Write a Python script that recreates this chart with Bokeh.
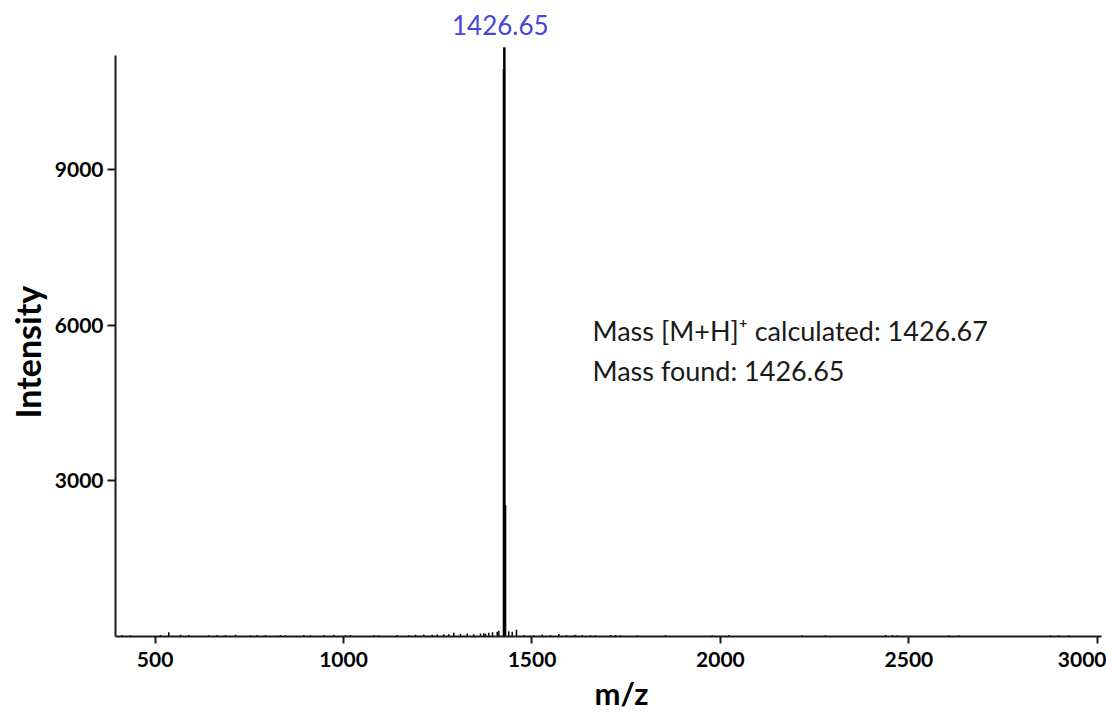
from bokeh.plotting import figure
from bokeh.models import Range1d, FixedTicker, Title
from bokeh.core.properties import value
from bokeh.embed import file_html
from bokeh.resources import INLINE

# ---- data ----
peak_mz = [1425.6, 1426.65, 1428.6]
peak_int = [10940, 11360, 2530]

noise_mz = [412.8, 434.8, 514.4, 536.4, 567.5, 589.5, 642.5, 664.8, 686.8, 713.4,
            753.2, 770.9, 793.0, 832.8, 846.0, 894.6, 912.4, 947.7, 974.2, 1005.2,
            1018.5, 1080.3, 1093.6, 1142.4, 1173.2, 1191.0, 1213.0, 1235.3, 1248.5, 1266.0,
            1279.3, 1292.6, 1310.3, 1328.1, 1345.6, 1363.4, 1372.2, 1376.7, 1385.4, 1395.3,
            1407.7, 1412.0, 1438.5, 1447.5, 1458.9, 1478.3, 1504.8, 1527.1, 1549.1, 1571.2,
            1591.6, 1611.0, 1615.5, 1633.2, 1655.0, 1668.5, 1708.3, 1721.6, 1734.9, 1779.2,
            1854.2, 1978.2, 2022.0, 2217.0, 2278.8, 2438.0, 2456.5, 2469.0, 2606.0, 2632.5,
            2875.8, 2897.8, 2924.3]
noise_int = [30, 25, 30, 80, 35, 30, 25, 30, 30, 35,
             25, 30, 30, 30, 25, 30, 25, 30, 35, 25,
             30, 30, 25, 30, 25, 35, 40, 35, 40, 45,
             45, 70, 50, 55, 45, 60, 65, 55, 70, 80,
             90, 110, 100, 90, 130, 30, 25, 40, 30, 50,
             30, 25, 35, 30, 25, 25, 30, 30, 25, 25,
             30, 25, 30, 25, 25, 30, 30, 25, 25, 25,
             25, 25, 25]

x_ticks = [500, 1000, 1500, 2000, 2500, 3000]
y_ticks = [3000, 6000, 9000]

peak_label = "1426.65"
note_lines = ["Mass [M+H]\u207a calculated: 1426.67", "Mass found: 1426.65"]
x_title = "m/z"
y_title = "Intensity"

FONT = "Lato"

p = figure(width=1106, height=721, output_backend="svg", toolbar_location=None,
           x_range=Range1d(395, 3011), y_range=Range1d(0, 12071),
           min_border_left=115, min_border_right=5, min_border_top=10, min_border_bottom=85)
p.outline_line_color = None
p.grid.grid_line_color = None
p.background_fill_color = "white"
p.border_fill_color = "white"

p.segment(x0=noise_mz, y0=[0] * len(noise_mz), x1=noise_mz, y1=noise_int,
          line_color="black", line_width=1.5)
p.segment(x0=peak_mz, y0=[0] * len(peak_mz), x1=peak_mz, y1=peak_int,
          line_color="black", line_width=2.5)

p.text(x=[peak_mz[1]], y=[11782], text=[peak_label], text_align="center",
       text_baseline="middle", text_font=value(FONT), text_font_size="26px",
       text_color="#4646dc", x_offset=-4)
p.text(x=[1660.6, 1660.6], y=[5910, 5120], text=note_lines, text_align="left",
       text_baseline="middle", text_font=value(FONT), text_font_size="27px",
       text_color="#1a1a1a")

for ax in (p.xaxis[0], p.yaxis[0]):
    ax.axis_line_width = 2
    ax.axis_line_color = "#1a1a1a"
    ax.major_tick_line_width = 2
    ax.major_tick_line_color = "#1a1a1a"
    ax.major_tick_in = 0
    ax.minor_tick_line_color = None
    ax.major_label_text_font = FONT
    ax.major_label_text_font_style = "bold"
    ax.major_label_text_font_size = "21px"
    ax.major_label_text_color = "black"

p.xaxis.ticker = FixedTicker(ticks=x_ticks)
p.yaxis.ticker = FixedTicker(ticks=y_ticks)
p.xaxis.major_tick_out = 7
p.yaxis.major_tick_out = 8
p.xaxis.major_label_standoff = 8
p.yaxis.major_label_standoff = 4
p.yaxis.bounds = (0, 11200)

# axis titles as side titles, offset so they sit where the reference has them
p.add_layout(Title(text=y_title, align="left", offset=218, standoff=8,
                   text_font=FONT, text_font_style="bold", text_font_size="34px",
                   text_color="black"), "left")
p.add_layout(Title(text=x_title, align="left", offset=479, standoff=4,
                   text_font=FONT, text_font_style="bold", text_font_size="31px",
                   text_color="black"), "below")

open("out.html", "w").write(file_html(p, INLINE))
